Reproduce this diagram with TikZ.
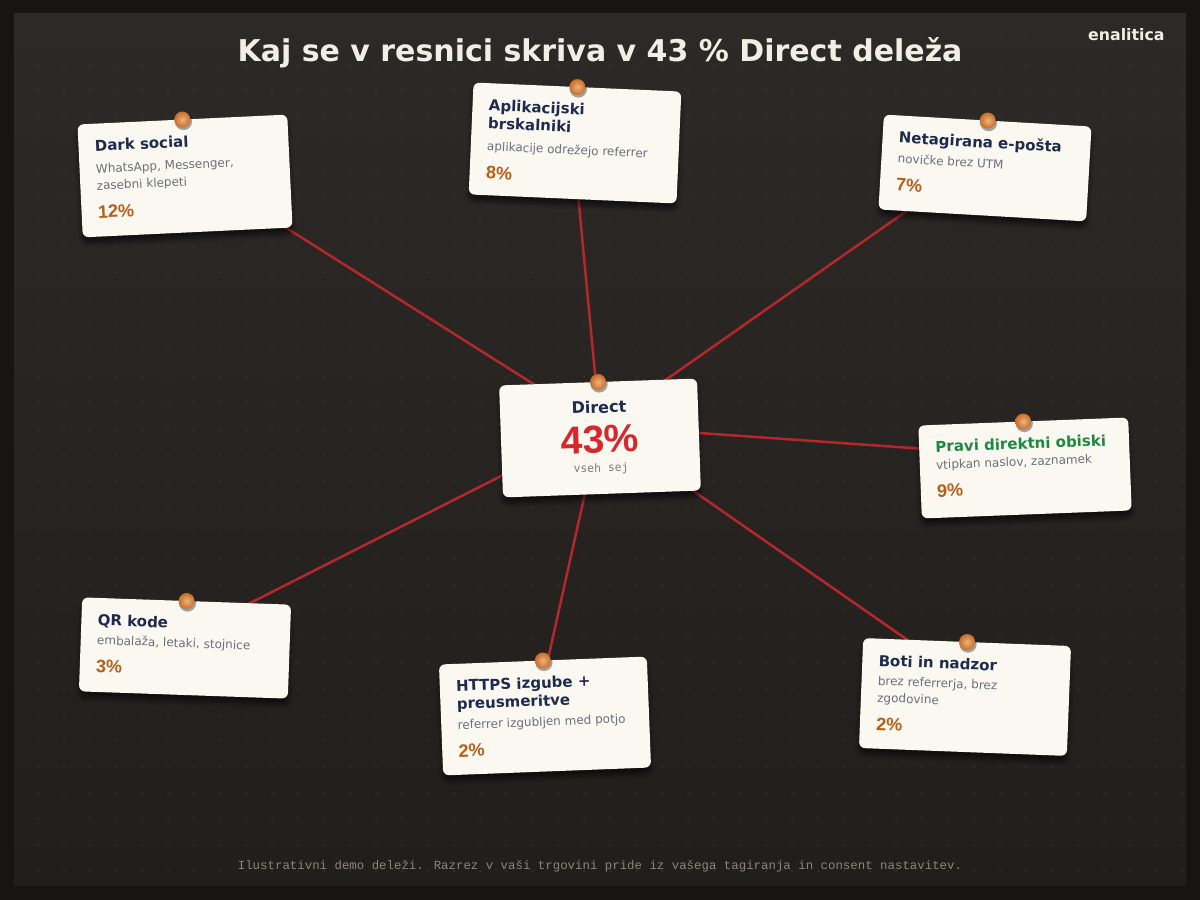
\documentclass[tikz,border=0pt]{standalone}
\usepackage{fontspec}
\setmainfont{DejaVu Sans}
\newfontfamily\numfont{Liberation Sans}
\newfontfamily\footfont{Liberation Mono}
\newfontfamily\tagfont{DejaVu Sans Mono}
\usetikzlibrary{shadows.blur}
\definecolor{outerbg}{HTML}{171412}
\definecolor{paneltop}{HTML}{2C2926}
\definecolor{panelbot}{HTML}{221E1B}
\definecolor{dotc}{HTML}{3A3531}
\definecolor{cardbg}{HTML}{FAF8F1}
\definecolor{navy}{HTML}{1D2B4F}
\definecolor{subgray}{HTML}{6B6F79}
\definecolor{pctorange}{HTML}{B95D17}
\definecolor{truegreen}{HTML}{1B8A3F}
\definecolor{bigred}{HTML}{D8262B}
\definecolor{stringred}{HTML}{B3282D}
\definecolor{tacklight}{HTML}{F2B27A}
\definecolor{tackdark}{HTML}{C46C2A}
\definecolor{titlecream}{HTML}{F3EEE5}
\definecolor{footgray}{HTML}{8C857B}
\definecolor{monogray}{HTML}{7C7C7C}
% the three parts of a card text
\newcommand\cardttl[2][navy]{{\fontsize{7.5pt}{9pt}\selectfont\bfseries\leavevmode\color{#1}#2\par}}
\newcommand\cardsub[2][0pt]{\vskip #1{\fontsize{6pt}{8.5pt}\selectfont\leavevmode\color{subgray}\vrule width 0pt height 7.4pt #2\par}}
\newcommand\cardpct[1]{{\fontsize{9pt}{14pt}\selectfont\numfont\bfseries\leavevmode\color{pctorange}#1\par}}
\tikzset{
card/.style={rectangle, fill=cardbg, rounded corners=3pt, inner sep=0pt, blur shadow={shadow xshift=0pt, shadow yshift=-3pt, shadow opacity=55, shadow blur steps=8}}, % the paper cards
cardtext/.style={anchor=base west, text width=95pt, align=flush left, inner sep=0pt},
tack/.style={circle, minimum size=8pt, inner sep=0pt, inner color=tacklight, outer color=tackdark}, % pins on top of the cards
tackshadow/.style={circle, minimum size=8.6pt, inner sep=0pt, fill=black, opacity=0.35},
string/.style={draw=stringred, line width=1.25pt},
}
\begin{document}
\begin{tikzpicture}[x=0.5pt, y=0.5pt]
\useasboundingbox (0,0) rectangle (1200,900);
\fill[outerbg] (0,0) rectangle (1200,900);
\shade[top color=paneltop, bottom color=panelbot] (14,14) rectangle (1186,886);
\foreach \i in {0,...,44}
  \foreach \j in {0,...,32}
    \fill[dotc] ({38+26*\i},{861-26*\j}) circle (0.5pt);

% where the strings are tied
\coordinate (direct-k) at (600,474);
\coordinate (dark-k) at (185,736);
\coordinate (apps-k) at (572,769);
\coordinate (mail-k) at (985,744);
\coordinate (true-k) at (1025,444);
\coordinate (qr-k) at (185,264);
\coordinate (https-k) at (538,196);
\coordinate (bots-k) at (965,220);
\foreach \c in {dark,apps,mail,true,qr,https,bots}
  \draw[string] (direct-k) -- (\c-k);

% Dark social
\begin{scope}[shift={(185,724)}, rotate=2.7, transform shape]
  \node[card, minimum width=105pt, minimum height=56.5pt] (dark) at (0,0) {};
  \node[cardtext] (dark-txt) at (-89,29) {\cardttl{Dark social}\cardsub[2.5pt]{WhatsApp, Messenger,\\zasebni klepeti}\cardpct{12\%}};
  \node[tackshadow] (dark-ts) at (1,54.5) {};
  \node[tack] (dark-tack) at (0,56.5) {};
\end{scope}
% Aplikacijski brskalniki
\begin{scope}[shift={(575,757)}, rotate=-2.5, transform shape]
  \node[card, minimum width=104pt, minimum height=56pt] (apps) at (0,0) {};
  \node[cardtext] (apps-txt) at (-88,28.5) {\cardttl{Aplikacijski\\brskalniki}\cardsub[2.5pt]{aplikacije odrežejo referrer}\cardpct{8\%}};
  \node[tackshadow] (apps-ts) at (1,54) {};
  \node[tack] (apps-tack) at (0,56) {};
\end{scope}
% Netagirana e-posta
\begin{scope}[shift={(985,732)}, rotate=-3.3, transform shape]
  \node[card, minimum width=104pt, minimum height=47.5pt] (mail) at (0,0) {};
  \node[cardtext] (mail-txt) at (-88,20) {\cardttl{Netagirana e-pošta}\cardsub{novičke brez UTM}\cardpct{7\%}};
  \node[tackshadow] (mail-ts) at (1,45.5) {};
  \node[tack] (mail-tack) at (0,47.5) {};
\end{scope}
% Pravi direktni obiski
\begin{scope}[shift={(1025,432)}, rotate=2.2, transform shape]
  \node[card, minimum width=105pt, minimum height=46.5pt] (true) at (0,0) {};
  \node[cardtext] (true-txt) at (-89,19) {\cardttl[truegreen]{Pravi direktni obiski}\cardsub{vtipkan naslov, zaznamek}\cardpct{9\%}};
  \node[tackshadow] (true-ts) at (1,44.5) {};
  \node[tack] (true-tack) at (0,46.5) {};
\end{scope}
% QR kode
\begin{scope}[shift={(185,252)}, rotate=-2, transform shape]
  \node[card, minimum width=104.5pt, minimum height=47pt] (qr) at (0,0) {};
  \node[cardtext] (qr-txt) at (-88.5,19.5) {\cardttl{QR kode}\cardsub[1pt]{embalaža, letaki, stojnice}\cardpct{3\%}};
  \node[tackshadow] (qr-ts) at (1,45) {};
  \node[tack] (qr-tack) at (0,47) {};
\end{scope}
% HTTPS izgube
\begin{scope}[shift={(545,184)}, rotate=2.2, transform shape]
  \node[card, minimum width=104pt, minimum height=55.5pt] (https) at (0,0) {};
  \node[cardtext] (https-txt) at (-88,28) {\cardttl{HTTPS izgube +\\preusmeritve}\cardsub{referrer izgubljen med potjo}\cardpct{2\%}};
  \node[tackshadow] (https-ts) at (1,53.5) {};
  \node[tack] (https-tack) at (0,55.5) {};
\end{scope}
% Boti in nadzor
\begin{scope}[shift={(965,203)}, rotate=-2.2, transform shape]
  \node[card, minimum width=104pt, minimum height=55pt] (bots) at (0,0) {};
  \node[cardtext] (bots-txt) at (-88,27.5) {\cardttl{Boti in nadzor}\cardsub[1pt]{brez referrerja, brez\\zgodovine}\cardpct{2\%}};
  \node[tackshadow] (bots-ts) at (1,53) {};
  \node[tack] (bots-tack) at (0,55) {};
\end{scope}
% Direct, in the middle
\begin{scope}[shift={(600,462)}, rotate=2, transform shape]
  \node[card, minimum width=99pt, minimum height=56pt] (direct) at (0,0) {};
  \node[font=\bfseries\fontsize{8pt}{9pt}\selectfont, text=navy, anchor=base] (direct-ttl) at (0,25) {Direct};
  \node[font=\numfont\bfseries\fontsize{19.5pt}{20pt}\selectfont, text=bigred, anchor=base] (direct-pct) at (0,-15) {43\%};
  \node[font=\tagfont\fontsize{5.7pt}{7pt}\selectfont, text=monogray, anchor=base] (direct-sub) at (0,-34) {vseh sej};
  \node[tackshadow] (direct-ts) at (1,54) {};
  \node[tack] (direct-tack) at (0,56) {};
\end{scope}

\node[font=\bfseries\fontsize{15pt}{18pt}\selectfont, text=titlecream, anchor=base] (title) at (600,838) {Kaj se v resnici skriva v 43 \% Direct deleža};
\node[font=\bfseries\fontsize{7.9pt}{9pt}\selectfont, text=titlecream, anchor=base east, inner sep=0pt] (brand) at (1165,859) {enalitica};
\node[font=\footfont\fontsize{6.2pt}{7pt}\selectfont, text=footgray, anchor=base] (foot) at (600,31) {Ilustrativni demo deleži. Razrez v vaši trgovini pride iz vašega tagiranja in consent nastavitev.};
\end{tikzpicture}
\end{document}
